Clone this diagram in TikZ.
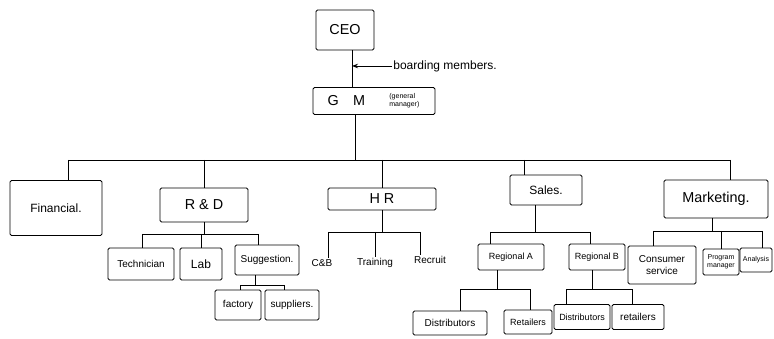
\documentclass[tikz,border=0pt]{standalone}
\usepackage{fontspec}
\setmainfont{Liberation Sans}
\usetikzlibrary{arrows.meta}
\begin{document}
\begin{tikzpicture}[x=1pt,y=-1pt,line width=0.8pt,
  unit/.style={draw, rounded corners=1.5pt, inner sep=1pt, align=center},
  plain/.style={inner sep=1pt, align=center}]
\useasboundingbox (0,0) rectangle (774,339);

% top of the chart
\node[unit, minimum width=58pt, minimum height=40pt, font=\Large] (ceo) at (345,30) {CEO};
\node[unit, minimum width=122pt, minimum height=27pt, text width=112pt, align=left, font=\Large] (gm) at (374,101) {\ \ G\ \ \ M};
\node[plain, anchor=west, font=\scriptsize, align=left] (gmnote) at (388,101) {(general\\ manager)};
\node[plain, anchor=west, font=\large] (board) at (392,66) {boarding members.};

% departments
\node[unit, minimum width=92pt, minimum height=55pt, font=\large] (fin) at (56,208) {Financial.};
\node[unit, minimum width=88pt, minimum height=34pt, font=\Large] (rd) at (204,205) {R \& D};
\node[unit, minimum width=108pt, minimum height=22pt, font=\Large] (hr) at (382,199) {H R};
\node[unit, minimum width=72pt, minimum height=30pt, font=\large] (sales) at (546,190) {Sales.};
\node[unit, minimum width=104pt, minimum height=38pt, font=\Large] (mkt) at (716,199) {Marketing.};

% R&D teams
\node[unit, minimum width=66pt, minimum height=32pt] (tech) at (141,264) {Technician};
\node[unit, minimum width=42pt, minimum height=32pt, font=\large] (lab) at (201,264) {Lab};
\node[unit, minimum width=64pt, minimum height=30pt] (sug) at (267,260) {Suggestion.};
\node[unit, minimum width=46pt, minimum height=30pt] (fac) at (238,305) {factory};
\node[unit, minimum width=54pt, minimum height=30pt] (sup) at (292,305) {suppliers.};

% HR functions
\node[plain] (cb) at (322,263) {C\&B};
\node[plain] (trn) at (375,263) {Training};
\node[plain] (rec) at (430,260) {Recruit};

% sales regions
\node[unit, minimum width=66pt, minimum height=26pt, font=\small] (ra) at (511,257) {Regional A};
\node[unit, minimum width=56pt, minimum height=26pt, font=\small] (rb) at (597,257) {Regional B};
\node[unit, minimum width=74pt, minimum height=24pt] (da) at (450,323) {Distributors};
\node[unit, minimum width=48pt, minimum height=24pt, font=\small] (rta) at (528,322) {Retailers};
\node[unit, minimum width=56pt, minimum height=25pt, font=\small] (db) at (582,317) {Distributors};
\node[unit, minimum width=52pt, minimum height=25pt] (rtb) at (638,317) {retailers};

% marketing teams
\node[unit, minimum width=68pt, minimum height=38pt] (cs) at (662,265) {Consumer\\ service};
\node[unit, minimum width=36pt, minimum height=26pt, font=\scriptsize] (pm) at (721,262) {Program\\ manager};
\node[unit, minimum width=32pt, minimum height=24pt, font=\scriptsize, inner sep=0.5pt] (an) at (756,260) {Analysis};

% CEO to GM, with the board note
\coordinate (cg) at ([xshift=7pt]ceo.south);
\draw (cg) -- (cg |- gm.north);
\draw[-{Stealth[length=6pt]}] (board.west) -- (board.west -| cg);

% main bus
\coordinate (tl) at (68,160);
\coordinate (tr) at (730,160);
\coordinate (gd) at ([xshift=-19pt]gm.south);
\draw (gd) -- (gd |- tl);
\draw (tl) -- (tr);
\draw (tl) -- (tl |- fin.north);
\draw (rd.north |- tl) -- (rd.north);
\draw (hr.north |- tl) -- (hr.north);
\coordinate (sd) at ([xshift=-22pt]sales.north);
\draw (sd |- tl) -- (sd);
\draw (tr) -- (tr |- mkt.north);

% R&D bus
\coordinate (rdl) at (142,234);
\coordinate (rdr) at (258,234);
\draw (rd.south) -- (rd.south |- rdl);
\draw (rdl) -- (rdr);
\draw (rdl) -- (rdl |- tech.north);
\draw (lab.north |- rdl) -- (lab.north);
\draw (rdr) -- (rdr |- sug.north);

% suggestion bus
\coordinate (sgl) at (240,285);
\coordinate (sgr) at (284,285);
\coordinate (sgd) at ([xshift=-12pt]sug.south);
\draw (sgd) -- (sgd |- sgl);
\draw (sgl) -- (sgr);
\draw (sgl) -- (sgl |- fac.north);
\draw (sgr) -- (sgr |- sup.north);

% HR bus
\coordinate (hl) at (328,232);
\coordinate (hrr) at (420,232);
\draw (hr.south) -- (hr.south |- hl);
\draw (hl) -- (hrr);
\draw (hl) -- (hl |- cb.north);
\draw (trn.north |- hl) -- (trn.north);
\draw (hrr) -- (hrr |- rec.north);

% sales bus
\coordinate (sl) at (490,232);
\coordinate (sr) at (590,232);
\coordinate (ssd) at ([xshift=-11pt]sales.south);
\draw (ssd) -- (ssd |- sl);
\draw (sl) -- (sr);
\draw (sl) -- (sl |- ra.north);
\draw (sr) -- (sr |- rb.north);

% Regional A bus
\coordinate (al) at (460,289);
\coordinate (ar) at (530,289);
\coordinate (ad) at ([xshift=-14pt]ra.south);
\draw (ad) -- (ad |- al);
\draw (al) -- (ar);
\draw (al) -- (al |- da.north);
\draw (ar) -- (ar |- rta.north);

% Regional B bus
\coordinate (bl) at (566,289);
\coordinate (br) at (632,289);
\coordinate (bd) at ([xshift=-5pt]rb.south);
\draw (bd) -- (bd |- bl);
\draw (bl) -- (br);
\draw (bl) -- (bl |- db.north);
\draw (br) -- (br |- rtb.north);

% marketing bus
\coordinate (ml) at (653,231);
\coordinate (mr) at (762,231);
\coordinate (md) at ([xshift=-4pt]mkt.south);
\draw (md) -- (md |- ml);
\draw (ml) -- (mr);
\draw (ml) -- (ml |- cs.north);
\draw (pm.north |- ml) -- (pm.north);
\draw (mr) -- (mr |- an.north);
\end{tikzpicture}
\end{document}
